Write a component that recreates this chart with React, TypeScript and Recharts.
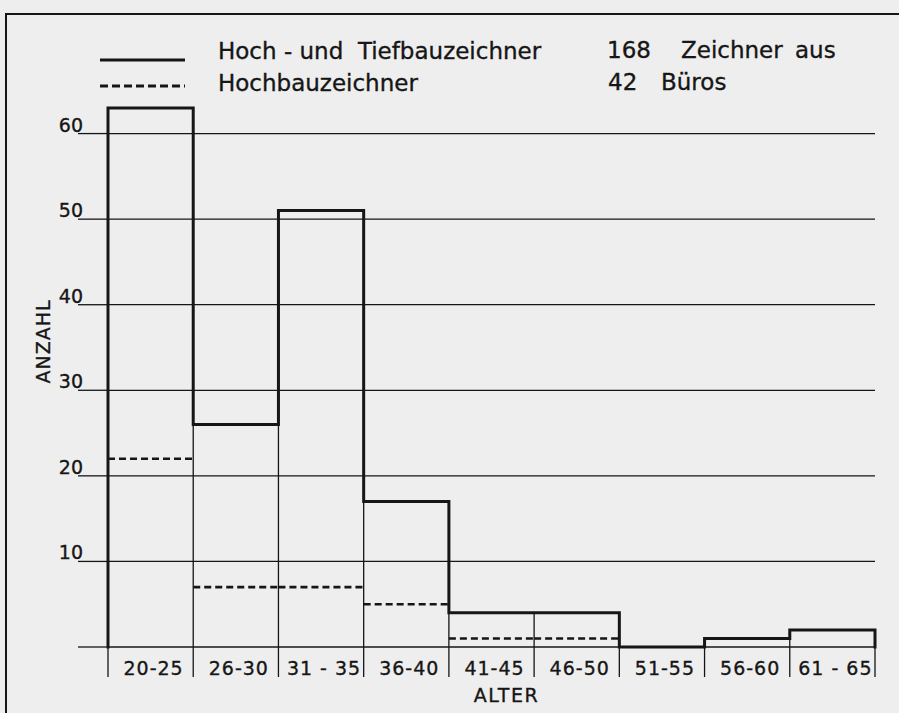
import { ComposedChart, Line, XAxis, YAxis, CartesianGrid, Legend } from "recharts";

// Altersgruppen und Anzahl der Zeichner
const categories = ["20-25", "26-30", "31 - 35", "36-40", "41-45", "46-50", "51-55", "56-60", "61 - 65"];
const hochTiefbau = [63, 26, 51, 17, 4, 4, 0, 1, 2];
const hochbau: (number | null)[] = [22, 7, 7, 5, 1, 1, null, null, null];
const yTicks = [0, 10, 20, 30, 40, 50, 60];
const seriesNames = ["Hoch - und  Tiefbauzeichner", "Hochbauzeichner"];

const INK = "#161616";
const FONT = "'DejaVu Sans', sans-serif";
// scanned lettering is a bit heavier than DejaVu Book
const heavy = { stroke: INK, strokeWidth: 0.35 };

const n = categories.length;
const edges = Array.from({ length: n + 1 }, (_, i) => i);
const centers = categories.map((_, i) => i + 0.5);

// thick outline of the histogram (step after each class edge)
const outline = [
    { x: 0, y: 0 },
    ...hochTiefbau.map((v, i) => ({ x: i, y: v })),
    { x: n, y: hochTiefbau[n - 1] },
    { x: n, y: 0 },
];

// thin class separators up to the higher neighbouring bar
const separators = edges.flatMap((i) => [
    { x: i, y: 0 },
    { x: i, y: Math.max(hochTiefbau[i - 1] ?? 0, hochTiefbau[i] ?? 0) },
    { x: i, y: null },
]);

// dashed tops only, no verticals
const dashed = hochbau.flatMap((v, i) =>
    v == null ? [] : [{ x: i, y: v }, { x: i + 1, y: v }, { x: i + 1, y: null }]
);

function LegendBox() {
    return (
        <svg width={899} height={110} style={{ display: "block", fontFamily: FONT }}>
            <line x1={100} x2={185} y1={60} y2={60} stroke={INK} strokeWidth={3} />
            <line x1={100} x2={185} y1={86} y2={86} stroke={INK} strokeWidth={3} strokeDasharray="8 4" />
            <g fontSize={23} fill={INK} {...heavy}>
                <text x={218} y={59} style={{ whiteSpace: "pre" }}>{seriesNames[0]}</text>
                <text x={218} y={91}>{seriesNames[1]}</text>
                <text x={607} y={58}>168</text>
                <text x={681} y={58}>Zeichner</text>
                <text x={795} y={58}>aus</text>
                <text x={608} y={90}>42</text>
                <text x={661} y={90}>Büros</text>
            </g>
        </svg>
    );
}

export default function App() {
    return (
        <div style={{ position: "absolute", left: 0, top: 0, width: 899, height: 713, background: "#eeeeee", fontFamily: FONT }}>
            <div style={{ position: "absolute", left: 5, top: 13, width: 900, height: 710, borderTop: `2px solid ${INK}`, borderLeft: `2px solid ${INK}` }} />
            <ComposedChart width={899} height={713} margin={{ top: 48, right: 24, left: 0, bottom: 0 }}>
                <CartesianGrid vertical={false} horizontalValues={yTicks} stroke={INK} strokeWidth={1.3} />
                <XAxis
                    dataKey="x"
                    type="number"
                    domain={[0, n]}
                    ticks={edges}
                    interval={0}
                    tick={() => <g />}
                    tickSize={30}
                    tickLine={{ stroke: INK, strokeWidth: 1.3 }}
                    axisLine={false}
                    height={1}
                />
                <XAxis
                    xAxisId="lbl"
                    dataKey="x"
                    type="number"
                    domain={[0, n]}
                    ticks={centers}
                    interval={0}
                    tickLine={false}
                    axisLine={false}
                    tickSize={0}
                    tickMargin={0}
                    height={65}
                    tick={(p: any) => (
                        <text x={p.x + 3} y={p.y + 27} textAnchor="middle" fontSize={19} letterSpacing={1} fill={INK} fontFamily={FONT} {...heavy}>
                            {categories[Math.floor(p.payload.value)]}
                        </text>
                    )}
                    label={{ value: "ALTER", position: "insideBottom", offset: 11, dx: 15, fontSize: 19, letterSpacing: 1.5, fill: INK, fontFamily: FONT, ...heavy }}
                />
                <YAxis
                    type="number"
                    domain={[0, 70]}
                    ticks={yTicks}
                    interval={0}
                    width={108}
                    tickSize={30}
                    tickMargin={0}
                    axisLine={false}
                    tickLine={{ stroke: INK, strokeWidth: 1.3 }}
                    tick={(p: any) =>
                        p.payload.value === 0 ? <g /> : (
                            <text x={p.x + 5} y={p.y - 2} textAnchor="end" fontSize={19} fill={INK} fontFamily={FONT} {...heavy}>
                                {p.payload.value}
                            </text>
                        )
                    }
                    label={{ value: "ANZAHL", angle: -90, position: "center", dx: -11, dy: -6, fontSize: 19, letterSpacing: 1, fill: INK, fontFamily: FONT, ...heavy }}
                />
                <Legend
                    layout="vertical"
                    align="center"
                    verticalAlign="middle"
                    wrapperStyle={{ left: 0, top: 0, width: 899, height: 110 }}
                    content={() => <LegendBox />}
                />
                <Line
                    data={separators}
                    dataKey="y"
                    type="linear"
                    stroke={INK}
                    strokeWidth={1.3}
                    dot={false}
                    connectNulls={false}
                    legendType="none"
                    isAnimationActive={false}
                />
                <Line
                    xAxisId="lbl"
                    data={dashed}
                    dataKey="y"
                    name={seriesNames[1]}
                    type="linear"
                    stroke={INK}
                    strokeWidth={2.6}
                    strokeDasharray="7 4"
                    dot={false}
                    connectNulls={false}
                    isAnimationActive={false}
                />
                <Line
                    data={outline}
                    dataKey="y"
                    name={seriesNames[0]}
                    type="stepAfter"
                    stroke={INK}
                    strokeWidth={3}
                    strokeLinecap="square"
                    dot={false}
                    isAnimationActive={false}
                />
            </ComposedChart>
        </div>
    );
}
